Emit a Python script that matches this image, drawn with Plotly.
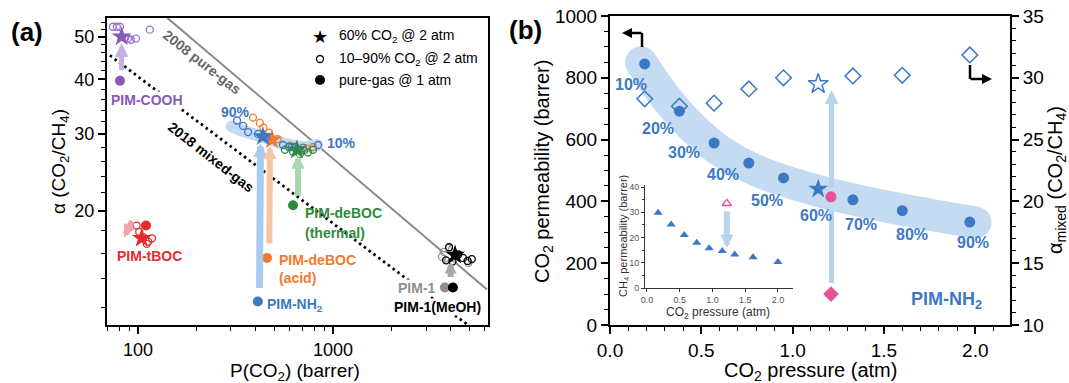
import numpy as np
import plotly.graph_objects as go

W, H = 1069, 383
SANS = "Liberation Sans, Arial, Helvetica, sans-serif"

# ================= Panel (a): alpha(CO2/CH4) vs P(CO2) =================
bound2008_P = [141, 6166]
bound2008_alpha = [55.4, 13.2]
bound2018_P = [71.8, 4920]
bound2018_alpha = [45.4, 10.95]

cooh_mixed_P = [74.4, 78.0, 80.9, 86.0, 88.9, 92.0, 97.7, 115.0]
cooh_mixed_alpha = [52.8, 52.8, 52.8, 49.8, 49.6, 49.3, 49.6, 52.0]
cooh_star_P, cooh_star_alpha = [82.5], [50.1]
cooh_pure_P, cooh_pure_alpha = [80.9], [39.7]

tboc_mixed_P = [98.5, 101.5, 106.5, 113.0, 118.0, 111.0]
tboc_mixed_alpha = [18.5, 17.9, 17.4, 17.0, 17.3, 16.8]
tboc_star_P, tboc_star_alpha = [104.5], [17.3]
tboc_pure_P, tboc_pure_alpha = [110.0], [18.5]

nh2_mixed_P = [322, 346, 367, 413, 453, 554, 616, 702, 838]
nh2_mixed_alpha = [32.2, 31.3, 30.3, 30.0, 29.4, 28.3, 28.0, 27.9, 28.3]
nh2_star_P, nh2_star_alpha = [437], [29.6]
nh2_pure_P, nh2_pure_alpha = [412], [12.4]

acid_mixed_P = [389, 422, 440, 470, 520, 600, 680, 730, 790]
acid_mixed_alpha = [32.7, 31.8, 31.0, 30.2, 29.2, 28.2, 27.6, 27.8, 28.0]
acid_star_P, acid_star_alpha = [487], [29.1]
acid_pure_P, acid_pure_alpha = [459], [15.6]

thermal_mixed_P = [567, 595, 624, 639, 654, 677, 710, 744, 790]
thermal_mixed_alpha = [27.6, 28.0, 27.3, 28.0, 27.6, 27.0, 27.5, 27.2, 27.6]
thermal_star_P, thermal_star_alpha = [654], [27.6]
thermal_pure_P, thermal_pure_alpha = [624], [20.6]

pim1_mixed_P = [3620, 3700, 4950]
pim1_mixed_alpha = [15.7, 16.1, 15.2]
pim1_star_P, pim1_star_alpha = [3980], [15.85]
pim1_pure_P, pim1_pure_alpha = [3750], [13.35]

meoh_mixed_P = [3800, 3940, 4100, 4400, 4640, 4900, 5150]
meoh_mixed_alpha = [15.4, 16.5, 15.3, 15.9, 15.6, 15.35, 15.5]
meoh_star_P, meoh_star_alpha = [4227], [15.85]
meoh_pure_P, meoh_pure_alpha = [4121], [13.35]

band_a_P = [303, 360, 432, 560, 700, 830]
band_a_alpha = [31.2, 30.3, 29.6, 28.5, 28.0, 28.3]

# ================= Panel (b): PIM-NH2 vs CO2 partial pressure =================
pressure = [0.19, 0.38, 0.57, 0.76, 0.95, 1.33, 1.60, 1.97]
co2_perm = [845, 692, 589, 524, 476, 405, 370, 333]
alpha_mixed = [28.3, 27.7, 27.95, 29.1, 30.0, 30.15, 30.2, 31.85]
pct_labels = ["10%", "20%", "30%", "40%", "50%", "70%", "80%", "90%"]
star_pressure = [1.14]
star_perm = [440]
star_alpha = [29.5]
pure_pressure = [1.21]
pure_perm = [415]
pure_alpha = [12.5]

band_b_p = [0.17, 0.30, 0.45, 0.60, 0.80, 1.00, 1.20, 1.50, 1.80, 2.00]
band_b_perm = [850, 740, 640, 565, 500, 458, 425, 385, 352, 332]

# inset: CH4 permeability
inset_pressure = [0.17, 0.37, 0.57, 0.76, 0.95, 1.15, 1.34, 1.62, 2.00]
ch4_perm = [29.8, 25.2, 21.0, 17.9, 15.7, 14.65, 13.3, 12.2, 10.3]
inset_pure_pressure = [1.22]
inset_pure_ch4 = [33.5]

# ================= colours =================
BLUE = "#3b78c6"
ORANGE = "#f07a2e"
GREEN = "#2e8b3c"
PURPLE = "#8a58b8"
PURPLE_L = "#9c72cc"
RED = "#e52b2b"
GRAY = "#8f8f8f"
PINK = "#e8509a"
BAND = "#c4dbf2"

fig = go.Figure()


def add(x, y, xa="x", ya="y", **kw):
    fig.add_trace(go.Scatter(x=x, y=y, xaxis=xa, yaxis=ya, showlegend=False,
                             hoverinfo="skip", **kw))


# ---- panel (a) traces ----
add(bound2008_P, bound2008_alpha, mode="lines", line=dict(color="#8a8a8a", width=2))
add(bound2018_P, bound2018_alpha, mode="lines",
    line=dict(color="black", width=2.8, dash="2.5px,3.5px"))
add(band_a_P, band_a_alpha, mode="lines", line=dict(color=BAND, width=12, shape="spline"))
add([band_a_P[0], band_a_P[-1]], [band_a_alpha[0], band_a_alpha[-1]], mode="markers",
    marker=dict(color=BAND, size=12))


def group(mp, ma, sp, sa, pp, pa, col, ocol=None, star_fill=None, star_line=None):
    ocol = ocol or col
    add(mp, ma, mode="markers",
        marker=dict(symbol="circle-open", size=7, color=ocol, line=dict(width=1.3, color=ocol)))
    add(pp, pa, mode="markers", marker=dict(symbol="circle", size=10, color=col))
    add(sp, sa, mode="markers",
        marker=dict(symbol="star", size=15, color=star_fill or col,
                    line=dict(width=1.2 if star_line else 0, color=star_line or col)))


group(cooh_mixed_P, cooh_mixed_alpha, cooh_star_P, cooh_star_alpha, cooh_pure_P, cooh_pure_alpha,
      PURPLE, PURPLE_L)
group(tboc_mixed_P, tboc_mixed_alpha, tboc_star_P, tboc_star_alpha, tboc_pure_P, tboc_pure_alpha, RED)
group(acid_mixed_P, acid_mixed_alpha, acid_star_P, acid_star_alpha, acid_pure_P, acid_pure_alpha, ORANGE)
group(thermal_mixed_P, thermal_mixed_alpha, thermal_star_P, thermal_star_alpha, thermal_pure_P,
      thermal_pure_alpha, GREEN)
group(nh2_mixed_P, nh2_mixed_alpha, nh2_star_P, nh2_star_alpha, nh2_pure_P, nh2_pure_alpha, BLUE)
group(pim1_mixed_P, pim1_mixed_alpha, pim1_star_P, pim1_star_alpha, pim1_pure_P, pim1_pure_alpha,
      GRAY, star_fill="white", star_line=GRAY)
group(meoh_mixed_P, meoh_mixed_alpha, meoh_star_P, meoh_star_alpha, meoh_pure_P, meoh_pure_alpha,
      "black")

# ---- panel (b) traces ----
add(band_b_p, band_b_perm, "x2", "y2", mode="lines", line=dict(color=BAND, width=32, shape="spline"))
add([band_b_p[0], band_b_p[-1]], [band_b_perm[0], band_b_perm[-1]], "x2", "y2", mode="markers",
    marker=dict(color=BAND, size=32))
add(pressure, alpha_mixed, "x2", "y3", mode="markers",
    marker=dict(symbol="diamond-open", size=12, color=BLUE, line=dict(width=1.5, color=BLUE)))
add(star_pressure, star_alpha, "x2", "y3", mode="markers",
    marker=dict(symbol="star-open", size=15, color=BLUE, line=dict(width=1.5, color=BLUE)))
add(pressure, co2_perm, "x2", "y2", mode="markers", marker=dict(symbol="circle", size=11, color=BLUE))
add(star_pressure, star_perm, "x2", "y2", mode="markers", marker=dict(symbol="star", size=15, color=BLUE))
add(pure_pressure, pure_alpha, "x2", "y3", mode="markers",
    marker=dict(symbol="diamond", size=12, color=PINK))

# ---- inset ----
add(inset_pressure, ch4_perm, "x4", "y4", mode="markers",
    marker=dict(symbol="triangle-up", size=8, color=BLUE))
add(inset_pure_pressure, inset_pure_ch4, "x4", "y4", mode="markers",
    marker=dict(symbol="triangle-up-open", size=8, color=PINK, line=dict(width=1.4, color=PINK)))

# pink pure-gas point drawn last in panel (b)
add(pure_pressure, pure_perm, "x2", "y2", mode="markers", marker=dict(symbol="circle", size=11, color=PINK))

# ================= annotations =================
anns = []
shapes = []


def txt(xp, yp, s, size=14, color="black", bold=False, angle=0, xanchor="center", family=SANS,
        bg=None):
    if bold:
        s = "<b>" + s + "</b>"
    a = dict(x=xp / W, y=1 - yp / H, xref="paper", yref="paper", text=s, showarrow=False,
             font=dict(size=size, color=color, family=family), textangle=angle,
             xanchor=xanchor, yanchor="middle")
    if bg:
        a.update(bgcolor=bg, borderpad=0)
    anns.append(a)


def arrow(xr, yr, xt, yt, xh, yh, color, width, size=0.45, logx=False, logy=False):
    if logx:
        xt, xh = np.log10(xt), np.log10(xh)
    if logy:
        yt, yh = np.log10(yt), np.log10(yh)
    anns.append(dict(x=xh, y=yh, ax=xt, ay=yt, xref=xr, yref=yr, axref=xr, ayref=yr, text="",
                     showarrow=True, arrowhead=2, arrowsize=size, arrowwidth=width,
                     arrowcolor=color, standoff=0, startstandoff=0))


# panel (a) arrows
arrow("x", "y", 82.5, 41.7, 82.5, 48.4, "#c6afe2", 5, 0.55, True, True)
arrow("x", "y", 94.3, 19.1, 84.8, 17.4, "#f5a3ae", 6, 0.42, True, True)
arrow("x", "y", 420, 13.2, 425, 28.6, "#a9cbee", 7, 0.4, True, True)
arrow("x", "y", 472, 16.7, 475, 28.2, "#f8c4a3", 6, 0.45, True, True)
arrow("x", "y", 662, 21.5, 662, 26.8, "#a8d8b0", 6, 0.45, True, True)
arrow("x", "y", 4013, 14.0, 4013, 15.3, "#a8a8a8", 6, 0.4, True, True)

# panel (b) arrows
shapes.append(dict(type="line", xref="x2", yref="y3", x0=1.213, x1=1.213, y0=13.4, y1=21.0,
                   line=dict(color="#b7d3ef", width=5), layer="below"))
arrow("x2", "y3", 1.213, 21.0, 1.213, 29.0, "#b7d3ef", 5, 0.55)
arrow("x4", "y4", 1.22, 30.9, 1.22, 15.8, "#b7d3ef", 6, 0.45)

# corner arrows (axis indicators)
shapes.append(dict(type="line", xref="paper", yref="paper", x0=642 / W, x1=642 / W,
                   y0=1 - 33 / H, y1=1 - 47 / H, line=dict(color="black", width=2.5)))
anns.append(dict(x=622 / W, y=1 - 33 / H, xref="paper", yref="paper", ax=21, ay=0, text="",
                 showarrow=True, arrowhead=2, arrowsize=0.8, arrowwidth=2.5, arrowcolor="black",
                 standoff=0, startstandoff=0))
shapes.append(dict(type="line", xref="paper", yref="paper", x0=970 / W, x1=970 / W,
                   y0=1 - 65 / H, y1=1 - 79 / H, line=dict(color="black", width=2.5)))
anns.append(dict(x=992 / W, y=1 - 79 / H, xref="paper", yref="paper", ax=-23, ay=0, text="",
                 showarrow=True, arrowhead=2, arrowsize=0.8, arrowwidth=2.5, arrowcolor="black",
                 standoff=0, startstandoff=0))

# panel labels
txt(27, 32, "(a)", 26, bold=True)
txt(525, 30, "(b)", 26, bold=True)

# panel (a) texts
txt(202, 62, "2008 pure-gas", 14, "#666666", True, 38)
txt(211, 157, "2018 mixed-gas", 14, "black", True, 38)
txt(147, 100, "PIM-COOH", 14, PURPLE, True, bg="white")
txt(235, 112, "90%", 14, BLUE, True)
txt(341, 143, "10%", 14, BLUE, True)
txt(149, 256, "PIM-tBOC", 14, RED, True)
txt(295, 305, "PIM-NH<sub>2</sub>", 14, BLUE, True)
txt(277, 260, "PIM-deBOC", 14, ORANGE, True, xanchor="left")
txt(277, 278, "(acid)", 14, ORANGE, True, xanchor="left")
txt(303, 213, "PIM-deBOC", 14, GREEN, True, xanchor="left")
txt(303, 233, "(thermal)", 14, GREEN, True, xanchor="left")
txt(437, 288, "PIM-1", 14, GRAY, True, xanchor="right", bg="white")
txt(437, 307, "PIM-1(MeOH)", 14, "black", True, bg="white")

# legend of panel (a)
txt(320, 36, "★", 18, "black", family="DejaVu Sans")
shapes.append(dict(type="circle", xref="paper", yref="paper", x0=316.5 / W, x1=323.5 / W,
                   y0=1 - 55.5 / H, y1=1 - 62.5 / H, line=dict(color="black", width=1.3)))
shapes.append(dict(type="circle", xref="paper", yref="paper", x0=315 / W, x1=325 / W,
                   y0=1 - 75 / H, y1=1 - 85 / H, line=dict(color="black", width=0),
                   fillcolor="black"))
txt(337, 36, "60% CO<sub>2</sub> @ 2 atm", 14, xanchor="left")
txt(337, 59, "10\u201390% CO<sub>2</sub> @ 2 atm", 14, xanchor="left")
txt(337, 80, "pure-gas @ 1 atm", 14, xanchor="left")

# axis titles
txt(295, 372, "P(CO<sub>2</sub>) (barrer)", 19)
txt(60, 162, "\u03b1 (CO<sub>2</sub>/CH<sub>4</sub>)", 19, angle=-90)
txt(810, 371, "CO<sub>2</sub> pressure (atm)", 20)
txt(543, 172, "CO<sub>2</sub> permeability (barrer)", 20, angle=-90)
txt(1056, 180, "\u03b1<sub>mixed</sub> (CO<sub>2</sub>/CH<sub>4</sub>)", 20, angle=-90)

# panel (b) texts
pct_px = [(631, 84), (658, 128), (684, 152), (723, 175), (767, 201), (861, 224), (912, 235), (973, 243)]
for lab, (xp, yp) in zip(pct_labels, pct_px):
    txt(xp, yp, lab, 16, BLUE, True)
txt(816, 215, "60%", 16, BLUE, True)
txt(946, 300, "PIM-NH<sub>2</sub>", 18, BLUE, True)

# inset titles
txt(718, 313, "CO<sub>2</sub> pressure (atm)", 12, "#333333")
txt(624, 236, "CH<sub>4</sub> permeability (barrer)", 11, "#333333", angle=-90)

# ================= axes =================
axis_common = dict(showline=True, linecolor="black", linewidth=2, ticks="outside", tickcolor="black",
                   tickwidth=1.5, showgrid=False, zeroline=False, automargin=False)

xa = dict(axis_common, domain=[107 / W, 488 / W], type="log", anchor="y",
          range=[np.log10(69.4), np.log10(6237)], mirror=True, ticklen=7,
          tickvals=[100, 1000], ticktext=["100", "1000"], tickfont=dict(size=18, family=SANS),
          minor=dict(tickvals=[70, 80, 90, 200, 300, 400, 500, 600, 700, 800, 900,
                               2000, 3000, 4000, 5000, 6000],
                     ticks="outside", ticklen=4, tickwidth=1.2, tickcolor="black", showgrid=False))
ya = dict(axis_common, domain=[1 - 325 / H, 1 - 18 / H], type="log", anchor="x",
          range=[np.log10(10.95), np.log10(55.3)], mirror=True, ticklen=7,
          tickvals=[20, 30, 40, 50], ticktext=["20", "30", "40", "50"],
          tickfont=dict(size=18, family=SANS),
          minor=dict(tickvals=[12, 14, 16, 18, 22, 24, 26, 28, 32, 34, 36, 38, 42, 44, 46, 48, 52, 54],
                     ticks="outside", ticklen=4, tickwidth=1.2, tickcolor="black", showgrid=False))

xa2 = dict(axis_common, domain=[610 / W, 1010 / W], anchor="y2", range=[0, 2.19], mirror=True,
           ticklen=7, dtick=0.5, tick0=0, tickformat=".1f", tickfont=dict(size=19, family=SANS),
           minor=dict(dtick=0.1, tick0=0, ticks="outside", ticklen=4, tickwidth=1.2,
                      tickcolor="black", showgrid=False))
ya2 = dict(axis_common, domain=[1 - 325 / H, 1 - 16 / H], anchor="x2", range=[0, 1000], dtick=200,
           ticklen=7, tickfont=dict(size=19, family=SANS),
           minor=dict(dtick=50, ticks="outside", ticklen=4, tickwidth=1.2, tickcolor="black",
                      showgrid=False))
ya3 = dict(axis_common, overlaying="y2", side="right", anchor="x2", range=[10, 35], dtick=5,
           ticklen=7, tickfont=dict(size=19, family=SANS),
           minor=dict(dtick=1, ticks="outside", ticklen=4, tickwidth=1.2, tickcolor="black",
                      showgrid=False))

inset_common = dict(showline=True, linecolor="#333333", linewidth=1, ticks="outside", ticklen=3,
                    tickwidth=1, tickcolor="#333333", showgrid=False, zeroline=False,
                    automargin=False, tickfont=dict(size=9, color="#555555", family=SANS))
xa4 = dict(inset_common, domain=[645 / W, 793 / W], anchor="y4", range=[-0.03, 2.23], dtick=0.5,
           tick0=0, tickformat=".1f")
ya4 = dict(inset_common, domain=[1 - 288 / H, 1 - 185 / H], anchor="x4", range=[0, 40.8], dtick=10,
           minor=dict(dtick=5, ticks="outside", ticklen=2, tickwidth=1, tickcolor="#333333"))

fig.update_layout(
    width=W, height=H, margin=dict(l=0, r=0, t=0, b=0, autoexpand=False),
    paper_bgcolor="white", plot_bgcolor="rgba(0,0,0,0)",
    font=dict(family=SANS, color="black"),
    xaxis=xa, yaxis=ya, xaxis2=xa2, yaxis2=ya2, yaxis3=ya3, xaxis4=xa4, yaxis4=ya4,
    annotations=anns, shapes=shapes, showlegend=False,
)

fig.write_html("out.html")
